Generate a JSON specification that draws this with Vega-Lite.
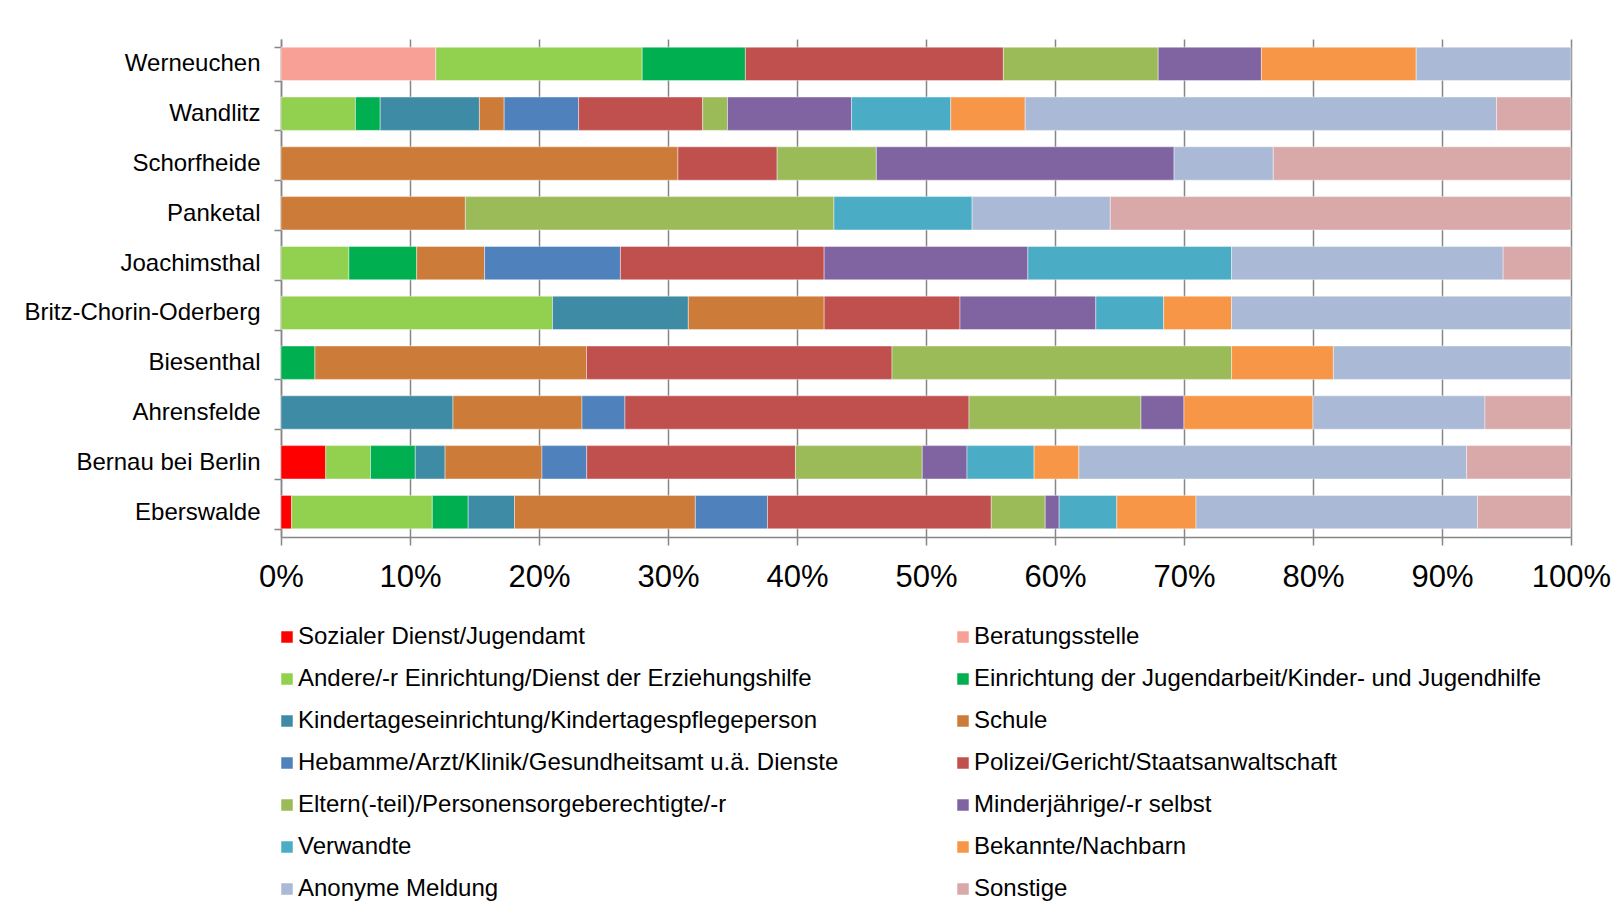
{
  "$schema": "https://vega.github.io/schema/vega-lite/v6.json",
  "width": 1290,
  "height": 498,
  "autosize": {"type": "none"},
  "padding": {"left": 281, "top": 39, "right": 52, "bottom": 382},
  "background": "#ffffff",
  "config": {
    "font": "Liberation Sans",
    "view": {"stroke": null},
    "axis": {"labelFont": "Liberation Sans", "labelColor": "#000000"}
  },
  "data": {
    "values": [
      {"Ort": "Werneuchen", "Quelle": "Beratungsstelle", "i": 2, "Anteil": 12},
      {"Ort": "Werneuchen", "Quelle": "Andere/-r Einrichtung/Dienst der Erziehungshilfe", "i": 3, "Anteil": 16},
      {"Ort": "Werneuchen", "Quelle": "Einrichtung der Jugendarbeit/Kinder- und Jugendhilfe", "i": 4, "Anteil": 8},
      {"Ort": "Werneuchen", "Quelle": "Polizei/Gericht/Staatsanwaltschaft", "i": 8, "Anteil": 20},
      {"Ort": "Werneuchen", "Quelle": "Eltern(-teil)/Personensorgeberechtigte/-r", "i": 9, "Anteil": 12},
      {"Ort": "Werneuchen", "Quelle": "Minderjährige/-r selbst", "i": 10, "Anteil": 8},
      {"Ort": "Werneuchen", "Quelle": "Bekannte/Nachbarn", "i": 12, "Anteil": 12},
      {"Ort": "Werneuchen", "Quelle": "Anonyme Meldung", "i": 13, "Anteil": 12},

      {"Ort": "Wandlitz", "Quelle": "Andere/-r Einrichtung/Dienst der Erziehungshilfe", "i": 3, "Anteil": 5.77},
      {"Ort": "Wandlitz", "Quelle": "Einrichtung der Jugendarbeit/Kinder- und Jugendhilfe", "i": 4, "Anteil": 1.92},
      {"Ort": "Wandlitz", "Quelle": "Kindertageseinrichtung/Kindertagespflegeperson", "i": 5, "Anteil": 7.69},
      {"Ort": "Wandlitz", "Quelle": "Schule", "i": 6, "Anteil": 1.92},
      {"Ort": "Wandlitz", "Quelle": "Hebamme/Arzt/Klinik/Gesundheitsamt u.ä. Dienste", "i": 7, "Anteil": 5.77},
      {"Ort": "Wandlitz", "Quelle": "Polizei/Gericht/Staatsanwaltschaft", "i": 8, "Anteil": 9.62},
      {"Ort": "Wandlitz", "Quelle": "Eltern(-teil)/Personensorgeberechtigte/-r", "i": 9, "Anteil": 1.92},
      {"Ort": "Wandlitz", "Quelle": "Minderjährige/-r selbst", "i": 10, "Anteil": 9.62},
      {"Ort": "Wandlitz", "Quelle": "Verwandte", "i": 11, "Anteil": 7.69},
      {"Ort": "Wandlitz", "Quelle": "Bekannte/Nachbarn", "i": 12, "Anteil": 5.77},
      {"Ort": "Wandlitz", "Quelle": "Anonyme Meldung", "i": 13, "Anteil": 36.54},
      {"Ort": "Wandlitz", "Quelle": "Sonstige", "i": 14, "Anteil": 5.77},

      {"Ort": "Schorfheide", "Quelle": "Schule", "i": 6, "Anteil": 30.77},
      {"Ort": "Schorfheide", "Quelle": "Polizei/Gericht/Staatsanwaltschaft", "i": 8, "Anteil": 7.69},
      {"Ort": "Schorfheide", "Quelle": "Eltern(-teil)/Personensorgeberechtigte/-r", "i": 9, "Anteil": 7.69},
      {"Ort": "Schorfheide", "Quelle": "Minderjährige/-r selbst", "i": 10, "Anteil": 23.08},
      {"Ort": "Schorfheide", "Quelle": "Anonyme Meldung", "i": 13, "Anteil": 7.69},
      {"Ort": "Schorfheide", "Quelle": "Sonstige", "i": 14, "Anteil": 23.08},

      {"Ort": "Panketal", "Quelle": "Schule", "i": 6, "Anteil": 14.29},
      {"Ort": "Panketal", "Quelle": "Eltern(-teil)/Personensorgeberechtigte/-r", "i": 9, "Anteil": 28.57},
      {"Ort": "Panketal", "Quelle": "Verwandte", "i": 11, "Anteil": 10.71},
      {"Ort": "Panketal", "Quelle": "Anonyme Meldung", "i": 13, "Anteil": 10.71},
      {"Ort": "Panketal", "Quelle": "Sonstige", "i": 14, "Anteil": 35.71},

      {"Ort": "Joachimsthal", "Quelle": "Andere/-r Einrichtung/Dienst der Erziehungshilfe", "i": 3, "Anteil": 5.26},
      {"Ort": "Joachimsthal", "Quelle": "Einrichtung der Jugendarbeit/Kinder- und Jugendhilfe", "i": 4, "Anteil": 5.26},
      {"Ort": "Joachimsthal", "Quelle": "Schule", "i": 6, "Anteil": 5.26},
      {"Ort": "Joachimsthal", "Quelle": "Hebamme/Arzt/Klinik/Gesundheitsamt u.ä. Dienste", "i": 7, "Anteil": 10.53},
      {"Ort": "Joachimsthal", "Quelle": "Polizei/Gericht/Staatsanwaltschaft", "i": 8, "Anteil": 15.79},
      {"Ort": "Joachimsthal", "Quelle": "Minderjährige/-r selbst", "i": 10, "Anteil": 15.79},
      {"Ort": "Joachimsthal", "Quelle": "Verwandte", "i": 11, "Anteil": 15.79},
      {"Ort": "Joachimsthal", "Quelle": "Anonyme Meldung", "i": 13, "Anteil": 21.05},
      {"Ort": "Joachimsthal", "Quelle": "Sonstige", "i": 14, "Anteil": 5.26},

      {"Ort": "Britz-Chorin-Oderberg", "Quelle": "Andere/-r Einrichtung/Dienst der Erziehungshilfe", "i": 3, "Anteil": 21.05},
      {"Ort": "Britz-Chorin-Oderberg", "Quelle": "Kindertageseinrichtung/Kindertagespflegeperson", "i": 5, "Anteil": 10.53},
      {"Ort": "Britz-Chorin-Oderberg", "Quelle": "Schule", "i": 6, "Anteil": 10.53},
      {"Ort": "Britz-Chorin-Oderberg", "Quelle": "Polizei/Gericht/Staatsanwaltschaft", "i": 8, "Anteil": 10.53},
      {"Ort": "Britz-Chorin-Oderberg", "Quelle": "Minderjährige/-r selbst", "i": 10, "Anteil": 10.53},
      {"Ort": "Britz-Chorin-Oderberg", "Quelle": "Verwandte", "i": 11, "Anteil": 5.26},
      {"Ort": "Britz-Chorin-Oderberg", "Quelle": "Bekannte/Nachbarn", "i": 12, "Anteil": 5.26},
      {"Ort": "Britz-Chorin-Oderberg", "Quelle": "Anonyme Meldung", "i": 13, "Anteil": 26.32},

      {"Ort": "Biesenthal", "Quelle": "Einrichtung der Jugendarbeit/Kinder- und Jugendhilfe", "i": 4, "Anteil": 2.63},
      {"Ort": "Biesenthal", "Quelle": "Schule", "i": 6, "Anteil": 21.05},
      {"Ort": "Biesenthal", "Quelle": "Polizei/Gericht/Staatsanwaltschaft", "i": 8, "Anteil": 23.68},
      {"Ort": "Biesenthal", "Quelle": "Eltern(-teil)/Personensorgeberechtigte/-r", "i": 9, "Anteil": 26.32},
      {"Ort": "Biesenthal", "Quelle": "Bekannte/Nachbarn", "i": 12, "Anteil": 7.89},
      {"Ort": "Biesenthal", "Quelle": "Anonyme Meldung", "i": 13, "Anteil": 18.42},

      {"Ort": "Ahrensfelde", "Quelle": "Kindertageseinrichtung/Kindertagespflegeperson", "i": 5, "Anteil": 13.33},
      {"Ort": "Ahrensfelde", "Quelle": "Schule", "i": 6, "Anteil": 10},
      {"Ort": "Ahrensfelde", "Quelle": "Hebamme/Arzt/Klinik/Gesundheitsamt u.ä. Dienste", "i": 7, "Anteil": 3.33},
      {"Ort": "Ahrensfelde", "Quelle": "Polizei/Gericht/Staatsanwaltschaft", "i": 8, "Anteil": 26.67},
      {"Ort": "Ahrensfelde", "Quelle": "Eltern(-teil)/Personensorgeberechtigte/-r", "i": 9, "Anteil": 13.33},
      {"Ort": "Ahrensfelde", "Quelle": "Minderjährige/-r selbst", "i": 10, "Anteil": 3.33},
      {"Ort": "Ahrensfelde", "Quelle": "Bekannte/Nachbarn", "i": 12, "Anteil": 10},
      {"Ort": "Ahrensfelde", "Quelle": "Anonyme Meldung", "i": 13, "Anteil": 13.33},
      {"Ort": "Ahrensfelde", "Quelle": "Sonstige", "i": 14, "Anteil": 6.67},

      {"Ort": "Bernau bei Berlin", "Quelle": "Sozialer Dienst/Jugendamt", "i": 1, "Anteil": 3.47},
      {"Ort": "Bernau bei Berlin", "Quelle": "Andere/-r Einrichtung/Dienst der Erziehungshilfe", "i": 3, "Anteil": 3.47},
      {"Ort": "Bernau bei Berlin", "Quelle": "Einrichtung der Jugendarbeit/Kinder- und Jugendhilfe", "i": 4, "Anteil": 3.47},
      {"Ort": "Bernau bei Berlin", "Quelle": "Kindertageseinrichtung/Kindertagespflegeperson", "i": 5, "Anteil": 2.31},
      {"Ort": "Bernau bei Berlin", "Quelle": "Schule", "i": 6, "Anteil": 7.51},
      {"Ort": "Bernau bei Berlin", "Quelle": "Hebamme/Arzt/Klinik/Gesundheitsamt u.ä. Dienste", "i": 7, "Anteil": 3.47},
      {"Ort": "Bernau bei Berlin", "Quelle": "Polizei/Gericht/Staatsanwaltschaft", "i": 8, "Anteil": 16.18},
      {"Ort": "Bernau bei Berlin", "Quelle": "Eltern(-teil)/Personensorgeberechtigte/-r", "i": 9, "Anteil": 9.83},
      {"Ort": "Bernau bei Berlin", "Quelle": "Minderjährige/-r selbst", "i": 10, "Anteil": 3.47},
      {"Ort": "Bernau bei Berlin", "Quelle": "Verwandte", "i": 11, "Anteil": 5.2},
      {"Ort": "Bernau bei Berlin", "Quelle": "Bekannte/Nachbarn", "i": 12, "Anteil": 3.47},
      {"Ort": "Bernau bei Berlin", "Quelle": "Anonyme Meldung", "i": 13, "Anteil": 30.06},
      {"Ort": "Bernau bei Berlin", "Quelle": "Sonstige", "i": 14, "Anteil": 8.09},

      {"Ort": "Eberswalde", "Quelle": "Sozialer Dienst/Jugendamt", "i": 1, "Anteil": 0.82},
      {"Ort": "Eberswalde", "Quelle": "Andere/-r Einrichtung/Dienst der Erziehungshilfe", "i": 3, "Anteil": 10.91},
      {"Ort": "Eberswalde", "Quelle": "Einrichtung der Jugendarbeit/Kinder- und Jugendhilfe", "i": 4, "Anteil": 2.78},
      {"Ort": "Eberswalde", "Quelle": "Kindertageseinrichtung/Kindertagespflegeperson", "i": 5, "Anteil": 3.59},
      {"Ort": "Eberswalde", "Quelle": "Schule", "i": 6, "Anteil": 14.02},
      {"Ort": "Eberswalde", "Quelle": "Hebamme/Arzt/Klinik/Gesundheitsamt u.ä. Dienste", "i": 7, "Anteil": 5.59},
      {"Ort": "Eberswalde", "Quelle": "Polizei/Gericht/Staatsanwaltschaft", "i": 8, "Anteil": 17.35},
      {"Ort": "Eberswalde", "Quelle": "Eltern(-teil)/Personensorgeberechtigte/-r", "i": 9, "Anteil": 4.18},
      {"Ort": "Eberswalde", "Quelle": "Minderjährige/-r selbst", "i": 10, "Anteil": 1.08},
      {"Ort": "Eberswalde", "Quelle": "Verwandte", "i": 11, "Anteil": 4.47},
      {"Ort": "Eberswalde", "Quelle": "Bekannte/Nachbarn", "i": 12, "Anteil": 6.14},
      {"Ort": "Eberswalde", "Quelle": "Anonyme Meldung", "i": 13, "Anteil": 21.82},
      {"Ort": "Eberswalde", "Quelle": "Sonstige", "i": 14, "Anteil": 7.25}
    ]
  },
  "mark": {"type": "bar", "stroke": "#ffffff", "strokeWidth": 0.7, "strokeOpacity": 0.6},
  "encoding": {
    "y": {
      "field": "Ort",
      "type": "nominal",
      "sort": ["Werneuchen", "Wandlitz", "Schorfheide", "Panketal", "Joachimsthal", "Britz-Chorin-Oderberg", "Biesenthal", "Ahrensfelde", "Bernau bei Berlin", "Eberswalde"],
      "scale": {"paddingInner": 0.33, "paddingOuter": 0.165},
      "axis": {
        "title": null,
        "tickBand": "extent",
        "tickSize": 7,
        "tickColor": "#868686",
        "tickWidth": 1.5,
        "domainColor": "#868686",
        "domainWidth": 1.5,
        "labelFontSize": 24,
        "labelPadding": 14,
        "labelLimit": 400,
        "grid": false
      }
    },
    "x": {
      "field": "Anteil",
      "type": "quantitative",
      "stack": "normalize",
      "scale": {"domain": [0, 1], "nice": false},
      "axis": {
        "title": null,
        "values": [0, 0.1, 0.2, 0.3, 0.4, 0.5, 0.6, 0.7, 0.8, 0.9, 1],
        "format": ".0%",
        "grid": true,
        "gridColor": "#868686",
        "gridWidth": 1.5,
        "gridOpacity": 1,
        "tickSize": 8,
        "tickColor": "#868686",
        "tickWidth": 1.5,
        "domainColor": "#868686",
        "domainWidth": 1.5,
        "labelFontSize": 31,
        "labelPadding": 17,
        "labelFlush": false,
        "labelOverlap": false
      }
    },
    "order": {"field": "i", "type": "quantitative", "sort": "ascending"},
    "color": {
      "field": "Quelle",
      "type": "nominal",
      "scale": {
        "domain": [
          "Sozialer Dienst/Jugendamt",
          "Beratungsstelle",
          "Andere/-r Einrichtung/Dienst der Erziehungshilfe",
          "Einrichtung der Jugendarbeit/Kinder- und Jugendhilfe",
          "Kindertageseinrichtung/Kindertagespflegeperson",
          "Schule",
          "Hebamme/Arzt/Klinik/Gesundheitsamt u.ä. Dienste",
          "Polizei/Gericht/Staatsanwaltschaft",
          "Eltern(-teil)/Personensorgeberechtigte/-r",
          "Minderjährige/-r selbst",
          "Verwandte",
          "Bekannte/Nachbarn",
          "Anonyme Meldung",
          "Sonstige"
        ],
        "range": ["#FF0000", "#F9A096", "#92D050", "#00B050", "#3E8BA5", "#CC7B38", "#4F81BD", "#C0504D", "#9BBB59", "#8064A2", "#4BACC6", "#F79646", "#AAB9D6", "#D9A9A9"]
      },
      "legend": {
        "title": null,
        "orient": "none",
        "legendX": -6,
        "legendY": 586,
        "columns": 2,
        "direction": "horizontal",
        "columnPadding": 112,
        "rowPadding": 18,
        "symbolType": "square",
        "symbolSize": 132,
        "symbolStrokeWidth": 0,
        "symbolOffset": 0,
        "labelFontSize": 24,
        "labelOffset": -1,
        "labelLimit": 1000,
        "labelColor": "#000000",
        "padding": 0
      }
    }
  }
}
